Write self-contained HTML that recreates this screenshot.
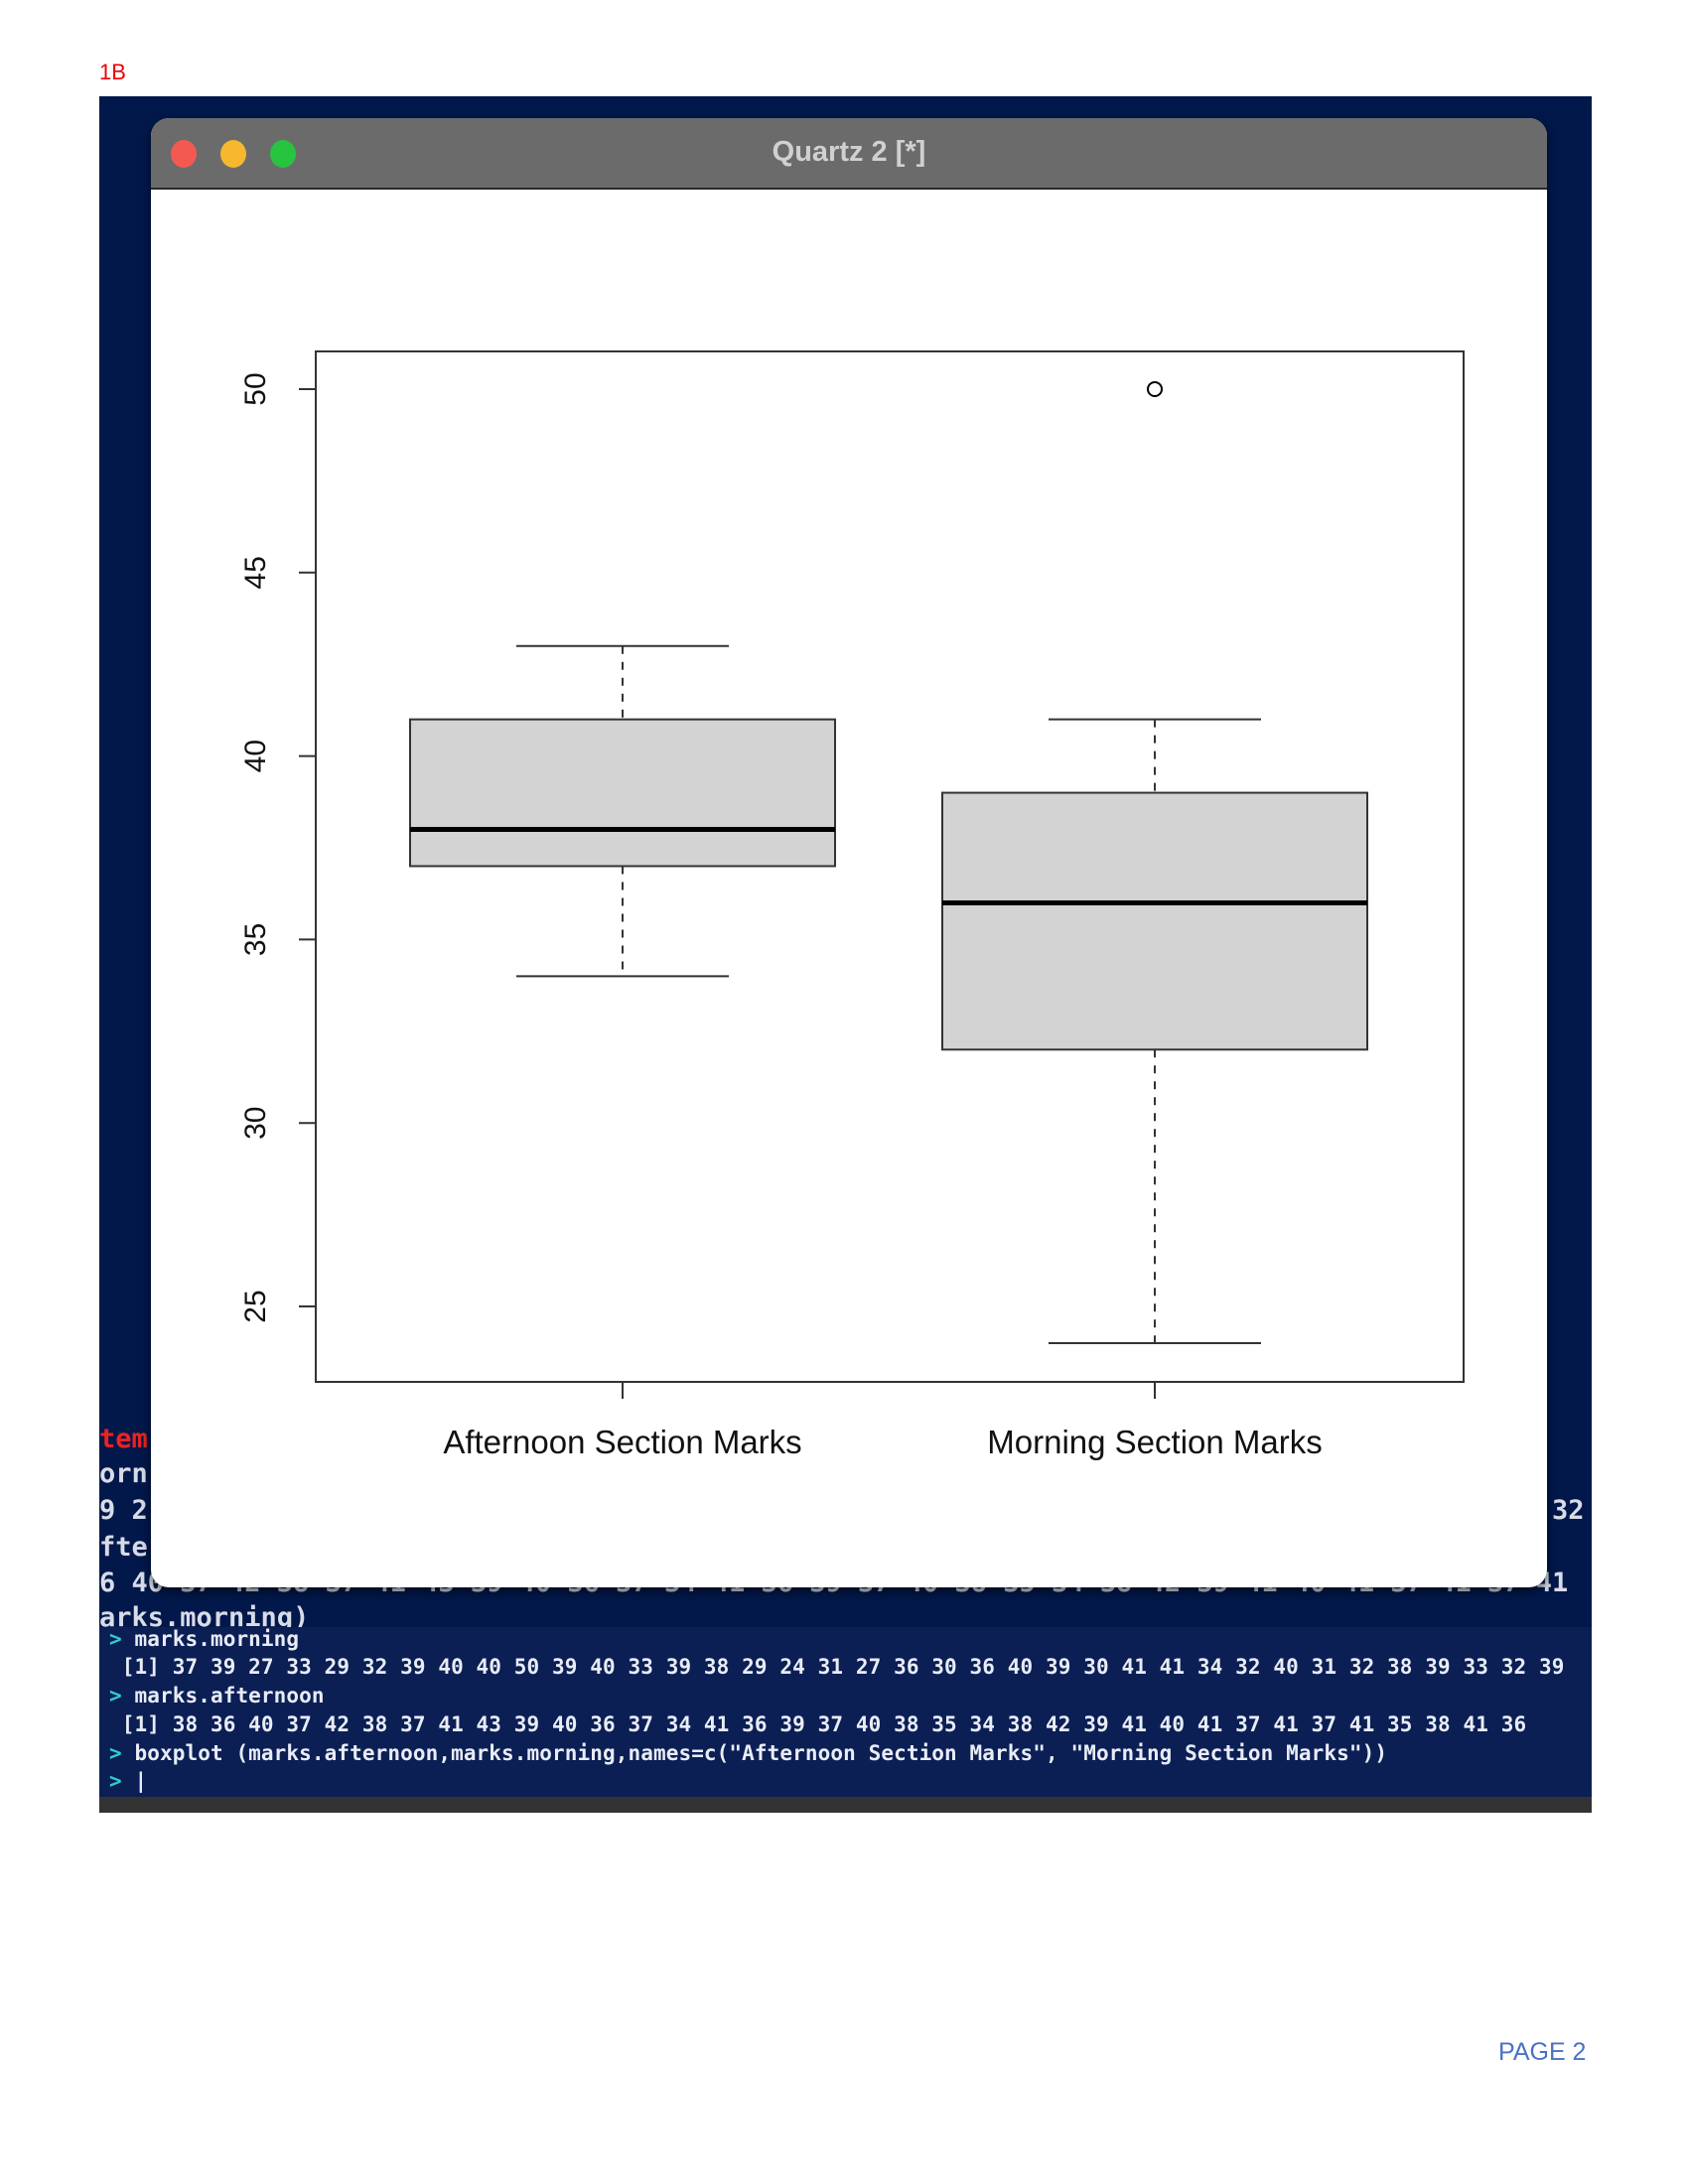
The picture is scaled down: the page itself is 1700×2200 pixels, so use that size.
<!DOCTYPE html>
<html><head><meta charset="utf-8">
<style>
html,body{margin:0;padding:0;background:#fff;}
body{width:1700px;height:2200px;position:relative;overflow:hidden;font-family:"Liberation Sans",sans-serif;}
.mono{font-family:"DejaVu Sans Mono","Liberation Mono",monospace;}
#label1b{position:absolute;left:100px;top:60px;color:#e00;font-size:22px;}
#term{position:absolute;left:100px;top:97px;width:1503px;height:1729px;background:#02184a;overflow:hidden;}
#term .bg{position:absolute;left:0;color:#d8dce8;font-size:27px;white-space:pre;font-weight:bold;}
#pane{position:absolute;left:0;top:1542px;width:1503px;height:171px;background:#0b1f55;}
#pane div{position:absolute;left:10px;color:#e8ecf5;font-size:21px;white-space:pre;letter-spacing:0.1px;font-weight:bold;}
#pane .p{color:#3cc;}
#statusbar{position:absolute;left:0;top:1713px;width:1503px;height:16px;background:#333;}
#win{position:absolute;left:152px;top:119px;width:1406px;height:1480px;background:#fff;border-radius:18px;overflow:hidden;box-shadow:0 4px 10px rgba(0,0,0,.6);}
#titlebar{position:absolute;left:0;top:0;width:1406px;height:70px;background:#6b6b6b;border-bottom:2px solid #2a2a2a;}
.dot{position:absolute;top:22px;width:26px;height:28px;border-radius:50%;}
#title{position:absolute;left:0;width:100%;top:18px;text-align:center;color:#d0d0d0;font-weight:bold;font-size:29px;}
#page2{position:absolute;left:1509px;top:2053px;color:#4a72c4;font-size:25px;}
</style></head><body>
<div id="label1b">1B</div>
<div id="term">
  <div class="bg mono" style="top:1337px;color:#e22">tem:</div>
  <div class="bg mono" style="top:1372px">orn</div>
  <div class="bg mono" style="top:1409px">9 2</div>
  <div class="bg mono" style="top:1409px;left:1463px">32</div>
  <div class="bg mono" style="top:1446px">fte</div>
  <div class="bg mono" style="top:1482px">6 40 37 42 38 37 41 43 39 40 36 37 34 41 36 39 37 40 38 35 34 38 42 39 41 40 41 37 41 37 41</div>
  <div class="bg mono" style="top:1517px">arks.morning)</div>
  <div id="pane">
    <div class="mono" style="top:0px"><span class="p">&gt;</span> marks.morning</div>
    <div class="mono" style="top:28px"> [1] 37 39 27 33 29 32 39 40 40 50 39 40 33 39 38 29 24 31 27 36 30 36 40 39 30 41 41 34 32 40 31 32 38 39 33 32 39</div>
    <div class="mono" style="top:57px"><span class="p">&gt;</span> marks.afternoon</div>
    <div class="mono" style="top:86px"> [1] 38 36 40 37 42 38 37 41 43 39 40 36 37 34 41 36 39 37 40 38 35 34 38 42 39 41 40 41 37 41 37 41 35 38 41 36</div>
    <div class="mono" style="top:115px"><span class="p">&gt;</span> boxplot (marks.afternoon,marks.morning,names=c("Afternoon Section Marks", "Morning Section Marks"))</div>
    <div class="mono" style="top:143px"><span class="p">&gt;</span> |</div>
  </div>
  <div id="statusbar"></div>
</div>
<div id="win">
  <div id="titlebar">
    <div class="dot" style="left:20px;background:#f25a51"></div>
    <div class="dot" style="left:70px;background:#f5b82e"></div>
    <div class="dot" style="left:120px;background:#27c43f"></div>
    <div id="title">Quartz 2 [*]</div>
  </div>
  <svg id="chart" width="1406" height="1480" style="position:absolute;left:0;top:0"></svg>
</div>
<div id="page2">PAGE 2</div>
<script>
const categories = ["Afternoon Section Marks", "Morning Section Marks"];
const afternoon = [38,36,40,37,42,38,37,41,43,39,40,36,37,34,41,36,39,37,40,38,35,34,38,42,39,41,40,41,37,41,37,41,35,38,41,36];
const morning = [37,39,27,33,29,32,39,40,40,50,39,40,33,39,38,29,24,31,27,36,30,36,40,39,30,41,41,34,32,40,31,32,38,39,33,32,39];
const yTicks = [25,30,35,40,45,50];

const NS='http://www.w3.org/2000/svg';
const svg=document.getElementById('chart');
const PL=318-152, PR=1474-152, PT=354-119, PB=1392-119;
function y(v){return (392-119)+(50-v)*(1316-392)/25;}
function x(i){return [627-152,1163-152][i];}
function mk(tag,attrs,name){const e=document.createElementNS(NS,tag);for(const k in attrs)e.setAttribute(k,attrs[k]);


svg.appendChild(e);return e;}
function fivenum(a){const s=[...a].sort((p,q)=>p-q),n=s.length;const n4=Math.floor((n+3)/2)/2;
const d=[1,n4,(n+1)/2,n+1-n4,n];return d.map(v=>0.5*(s[Math.floor(v)-1]+s[Math.ceil(v)-1]));}
function stats(a){const f=fivenum(a);const iqr=f[3]-f[1];const lo=f[1]-1.5*iqr,hi=f[3]+1.5*iqr;
const inn=a.filter(v=>v>=lo&&v<=hi);return {q1:f[1],med:f[2],q3:f[3],wl:Math.min(...inn),wh:Math.max(...inn),out:a.filter(v=>v<lo||v>hi)};}
const series=[afternoon,morning];
const HW=214, CW=107;
series.forEach((d,i)=>{
  const s=stats(d), cx=x(i);
  mk('line',{x1:cx,x2:cx,y1:y(s.wh),y2:y(s.q3),stroke:'#333','stroke-width':2,'stroke-dasharray':'8,8'},'whisker-upper');
  mk('line',{x1:cx,x2:cx,y1:y(s.q1),y2:y(s.wl),stroke:'#333','stroke-width':2,'stroke-dasharray':'8,8'},'whisker-lower');
  mk('line',{x1:cx-CW,x2:cx+CW,y1:y(s.wh),y2:y(s.wh),stroke:'#333','stroke-width':2},'whisker-cap-upper');
  mk('line',{x1:cx-CW,x2:cx+CW,y1:y(s.wl),y2:y(s.wl),stroke:'#333','stroke-width':2},'whisker-cap-lower');
  mk('rect',{x:cx-HW,y:y(s.q3),width:2*HW,height:y(s.q1)-y(s.q3),fill:'#d3d3d3',stroke:'#333','stroke-width':2},'box-'+i);
  mk('line',{x1:cx-HW,x2:cx+HW,y1:y(s.med),y2:y(s.med),stroke:'#000','stroke-width':5},'median-line');
  s.out.forEach(v=>mk('circle',{cx:cx,cy:y(v),r:7,fill:'none',stroke:'#000','stroke-width':2},'outlier-point'));
  mk('line',{x1:cx,x2:cx,y1:PB,y2:PB+17,stroke:'#333','stroke-width':2},'x-tick');
  const t=mk('text',{x:cx,y:PB+72,'text-anchor':'middle','font-size':33,fill:'#111','font-family':'Liberation Sans, sans-serif'},'x-tick-label');
  t.textContent=categories[i];
});
mk('rect',{x:PL,y:PT,width:PR-PL,height:PB-PT,fill:'none',stroke:'#333','stroke-width':2},'plot-frame');
yTicks.forEach(v=>{
  mk('line',{x1:PL-17,x2:PL,y1:y(v),y2:y(v),stroke:'#333','stroke-width':2},'y-tick');
  const t=mk('text',{x:0,y:0,'text-anchor':'middle','font-size':30,fill:'#111','font-family':'Liberation Sans, sans-serif',transform:`translate(${257-152+10},${y(v)}) rotate(-90)`},'y-tick-label');
  t.textContent=v;
});
</script>
</body></html>
